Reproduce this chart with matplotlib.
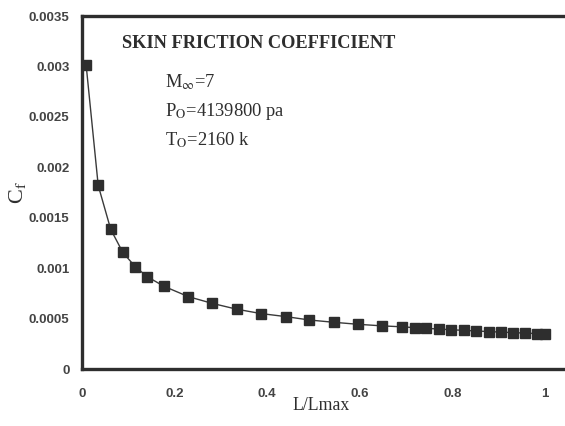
import matplotlib
matplotlib.use("Agg")
import matplotlib.pyplot as plt

# Skin friction coefficient along the plate
x_pos = [0.009, 0.035, 0.062, 0.088, 0.115, 0.141, 0.177, 0.230, 0.281, 0.334,
         0.386, 0.441, 0.491, 0.544, 0.597, 0.647, 0.692, 0.719, 0.744, 0.772,
         0.798, 0.825, 0.852, 0.878, 0.904, 0.930, 0.957, 0.983, 1.000]
cf = [0.00301, 0.00182, 0.001385, 0.001157, 0.001014, 0.000915, 0.000820,
      0.000717, 0.000651, 0.000593, 0.000550, 0.000519, 0.000486, 0.000463,
      0.000443, 0.000428, 0.000418, 0.000410, 0.000403, 0.000396, 0.000389,
      0.000383, 0.000377, 0.000371, 0.000366, 0.000361, 0.000356, 0.000351,
      0.000348]

x_ticks = [0, 0.2, 0.4, 0.6, 0.8, 1.0]
x_ticklabels = ["0", "0.2", "0.4", "0.6", "0.8", "1"]
y_ticks = [0, 0.0005, 0.001, 0.0015, 0.002, 0.0025, 0.003, 0.0035]
y_ticklabels = ["0", "0.0005", "0.001", "0.0015", "0.002", "0.0025", "0.003", "0.0035"]

plt.rcParams["mathtext.fontset"] = "stix"

W, H = 565, 426
fig = plt.figure(figsize=(W / 100, H / 100), dpi=100)
fig.patch.set_facecolor("white")

# axes box: x=0 at 82px, 1 unit = 463px; y from 369px (0) to 16px (0.0035)
x_max = 1.1
ax = fig.add_axes([82 / W, (H - 369) / H, x_max * 463 / W, 353 / H])
ax.set_xlim(0, x_max)
ax.set_ylim(0, 0.0035)

ink = "#2e2e2e"
ax.plot(x_pos, cf, color="#3a3a3a", lw=1.0, zorder=2)
ax.plot(x_pos, cf, ls="none", marker="s", ms=6.8, mfc=ink, mec=ink, zorder=3)

for side in ["left", "bottom", "top", "right"]:
    ax.spines[side].set_linewidth(2.4)
    ax.spines[side].set_color(ink)

ax.set_xticks(x_ticks)
ax.set_xticklabels(x_ticklabels)
ax.set_yticks(y_ticks)
ax.set_yticklabels(y_ticklabels)
ax.tick_params(length=0, labelsize=9.5, labelcolor="#444444")
ax.tick_params(axis="x", pad=14)
ax.tick_params(axis="y", pad=9)
for lab in ax.get_xticklabels() + ax.get_yticklabels():
    lab.set_fontfamily("Liberation Sans")
    lab.set_fontweight("bold")

serif = "Liberation Serif"
fig.text(17 / W, 1 - 192 / H, r"C$_{\mathrm{f}}$", rotation=90, ha="center",
         va="center", family=serif, fontsize=16, color=ink)
fig.text(321 / W, 1 - 406 / H, "L/Lmax", ha="center", va="center",
         family=serif, fontsize=12.8, color=ink)

fig.text(122 / W, 1 - 44 / H, "SKIN FRICTION COEFFICIENT", ha="left",
         va="center", family=serif, fontweight="bold", fontsize=13.2, color=ink)
fig.text(165 / W, 1 - 82 / H, r"M$_{\infty}$=7", ha="left", va="center",
         family=serif, fontsize=13.3, color=ink)
fig.text(165 / W, 1 - 111 / H, r"P$_{\mathrm{O}}$=4139800 pa", ha="left",
         va="center", family=serif, fontsize=13.3, color=ink)
fig.text(165 / W, 1 - 140 / H, r"T$_{\mathrm{O}}$=2160 k", ha="left",
         va="center", family=serif, fontsize=13.3, color=ink)

fig.savefig("out.png", dpi=100, facecolor="white")
